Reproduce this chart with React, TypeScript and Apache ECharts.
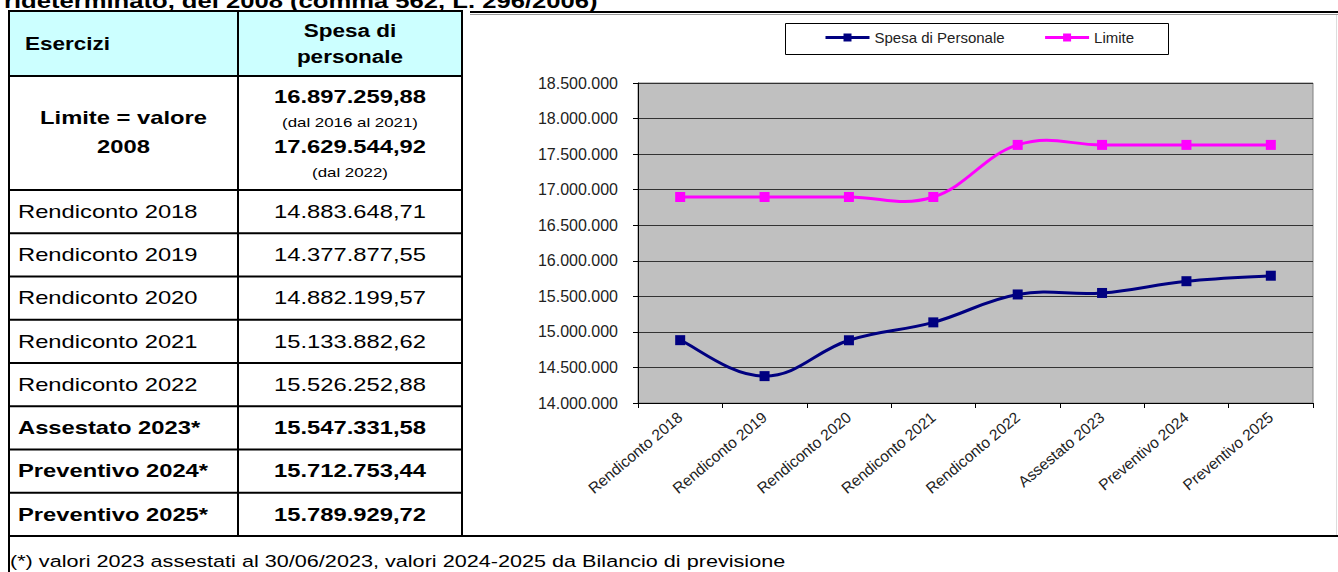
import React, { useEffect, useRef } from "react";
import * as echarts from "echarts";

// ---------- data ----------
const categories = [
  "Rendiconto 2018",
  "Rendiconto 2019",
  "Rendiconto 2020",
  "Rendiconto 2021",
  "Rendiconto 2022",
  "Assestato 2023",
  "Preventivo 2024",
  "Preventivo 2025",
];
const spesaPersonale = [
  14883648.71, 14377877.55, 14882199.57, 15133882.62, 15526252.88, 15547331.58,
  15712753.44, 15789929.72,
];
const limite = [
  16897259.88, 16897259.88, 16897259.88, 16897259.88, 17629544.92, 17629544.92,
  17629544.92, 17629544.92,
];
const tableLabels = [
  "Rendiconto 2018",
  "Rendiconto 2019",
  "Rendiconto 2020",
  "Rendiconto 2021",
  "Rendiconto 2022",
  "Assestato 2023*",
  "Preventivo 2024*",
  "Preventivo 2025*",
];
const tableBold = [false, false, false, false, false, true, true, true];
const limiteValori = [16897259.88, 17629544.92];
const limiteNote = ["(dal 2016 al 2021)", "(dal 2022)"];
const yMin = 14000000;
const yMax = 18500000;
const yStep = 500000;

const titleText = "rideterminato, del 2008 (comma 562, L. 296/2006)";
const footnoteText =
  "(*) valori 2023 assestati al 30/06/2023, valori 2024-2025 da Bilancio di previsione";

// ---------- helpers ----------
const FONT = "'Liberation Sans', Arial, Helvetica, sans-serif";
const SX = 1.25;
const NAVY = "#000080";
const MAGENTA = "#FF00FF";

function groupThousands(s: string) {
  return s.replace(/\B(?=(\d{3})+(?!\d))/g, ".");
}
function fmtInt(v: number) {
  return groupThousands(String(Math.round(v)));
}
function fmtDec(v: number) {
  const [i, d] = v.toFixed(2).split(".");
  return groupThousands(i) + "," + d;
}

function txt(
  x: number,
  y: number,
  text: string,
  size: number,
  bold: boolean,
  align: string = "left",
  vAlign: string = "middle"
) {
  return {
    type: "text",
    x,
    y,
    scaleX: SX,
    z: 10,
    style: {
      text,
      x: 0,
      y: 0,
      fill: "#000",
      fontSize: size,
      fontWeight: bold ? "bold" : "normal",
      fontFamily: FONT,
      align,
      verticalAlign: vAlign,
    },
  };
}
function ln(x1: number, y1: number, x2: number, y2: number, w = 2, c = "#000") {
  return {
    type: "line",
    z: 12,
    shape: { x1, y1, x2, y2 },
    style: { stroke: c, lineWidth: w },
  };
}

// Excel-like smoothed segment (cardinal spline) through the axis' own coordinates
function curveSeries(name: string, values: number[], color: string) {
  const n = values.length;
  const K = 0.2;
  return {
    name,
    type: "custom",
    z: 2,
    silent: true,
    data: values.map((v, i) => [i, v]),
    encode: { x: 0, y: 1 },
    renderItem: (params: any, api: any) => {
      const i = params.dataIndex;
      if (i >= n - 1) return { type: "group", children: [] };
      const pt = (k: number) => {
        const c = Math.max(0, Math.min(n - 1, k));
        return api.coord([c, values[c]]);
      };
      const p0 = pt(i - 1);
      const p1 = pt(i);
      const p2 = pt(i + 1);
      const p3 = pt(i + 2);
      return {
        type: "bezierCurve",
        shape: {
          x1: p1[0],
          y1: p1[1],
          x2: p2[0],
          y2: p2[1],
          cpx1: p1[0] + (p2[0] - p0[0]) * K,
          cpy1: p1[1] + (p2[1] - p0[1]) * K,
          cpx2: p2[0] - (p3[0] - p1[0]) * K,
          cpy2: p2[1] - (p3[1] - p1[1]) * K,
        },
        style: { stroke: color, lineWidth: 3, fill: null, lineCap: "round" },
      };
    },
  };
}

export default function App() {
  const ref = useRef<HTMLDivElement>(null);

  useEffect(() => {
    if (!ref.current) return;
    const chart = echarts.init(ref.current, null, { renderer: "svg" });

    const colL = 9;
    const colM = 238;
    const colR = 462;
    const tTop = 11;
    const headBottom = 76;
    const rowTop0 = 190;
    const rowH = 43.25;
    const tBottom = rowTop0 + rowH * tableLabels.length;
    const c1 = (colL + colM) / 2;
    const c2 = (colM + colR) / 2;

    const g: any[] = [];
    g.push({
      type: "rect",
      z: 5,
      shape: { x: colL, y: tTop, width: colR - colL, height: headBottom - tTop },
      style: { fill: "#CCFFFF" },
    });
    g.push(txt(4, 11, titleText, 20.5, true, "left", "bottom"));
    g.push(txt(25, 44, "Esercizi", 18, true));
    g.push(txt(c2, 31, "Spesa di", 18, true, "center"));
    g.push(txt(c2, 57, "personale", 18, true, "center"));
    g.push(txt(c1, 118, "Limite = valore", 19, true, "center"));
    g.push(txt(c1, 147, "2008", 19, true, "center"));
    g.push(txt(c2, 97, fmtDec(limiteValori[0]), 19, true, "center"));
    g.push(txt(c2, 122, limiteNote[0], 13.5, false, "center"));
    g.push(txt(c2, 147, fmtDec(limiteValori[1]), 19, true, "center"));
    g.push(txt(c2, 172, limiteNote[1], 13.5, false, "center"));
    tableLabels.forEach((lab, i) => {
      const cy = rowTop0 + rowH * i + rowH / 2;
      g.push(txt(18, cy, lab, 19, tableBold[i]));
      g.push(txt(c2, cy, fmtDec(spesaPersonale[i]), 19, tableBold[i], "center"));
    });
    g.push(txt(10, 561, footnoteText, 17.3, false));

    g.push(ln(colL, tTop, colR, tTop));
    g.push(ln(colL, tTop - 1, colL, 572));
    g.push(ln(colM, tTop, colM, tBottom));
    g.push(ln(colR, tTop - 1, colR, tBottom + 1));
    g.push(ln(colL, headBottom, colR, headBottom));
    for (let i = 0; i <= tableLabels.length; i++) {
      const y = rowTop0 + rowH * i;
      g.push(ln(colL, y, i === tableLabels.length ? 1338 : colR, y));
    }
    g.push(ln(470, 12, 1338, 12, 2, "#000"));
    g.push(ln(470, 14.5, 1338, 14.5, 1, "#9a9a9a"));
    g.push(ln(1336.5, 15, 1336.5, tBottom - 1, 1, "#dddddd"));
    g.push({
      type: "rect",
      z: 1,
      shape: { x: 785.5, y: 23.5, width: 383, height: 31 },
      style: { fill: "#fff", stroke: "#000", lineWidth: 1 },
    });

    chart.setOption({
      animation: false,
      backgroundColor: "#fff",
      textStyle: { fontFamily: FONT },
      grid: {
        left: 638,
        right: 25,
        top: 83,
        bottom: 169,
        show: true,
        backgroundColor: "#C0C0C0",
        borderColor: "#808080",
        borderWidth: 1,
      },
      legend: {
        left: 824,
        top: 30,
        padding: 0,
        itemWidth: 44,
        itemHeight: 10,
        itemGap: 39,
        z: 20,
        textStyle: { fontSize: 15, color: "#222", fontFamily: FONT },
        data: [
          {
            name: "Spesa di Personale",
            lineStyle: { color: NAVY, width: 3, opacity: 1 },
            itemStyle: { color: NAVY },
          },
          {
            name: "Limite",
            lineStyle: { color: MAGENTA, width: 3, opacity: 1 },
            itemStyle: { color: MAGENTA },
          },
        ],
      },
      xAxis: {
        type: "category",
        data: categories,
        boundaryGap: true,
        axisLine: { lineStyle: { color: "#000", width: 1 } },
        axisTick: { show: true, length: 5, lineStyle: { color: "#000" } },
        axisLabel: {
          interval: 0,
          rotate: 40,
          fontSize: 15.5,
          color: "#222",
          margin: 12,
          fontFamily: FONT,
        },
        splitLine: { show: false },
      },
      yAxis: {
        type: "value",
        min: yMin,
        max: yMax,
        interval: yStep,
        axisLine: { show: true, lineStyle: { color: "#000", width: 1 } },
        axisTick: { show: true, length: 5, lineStyle: { color: "#000" } },
        axisLabel: {
          fontSize: 16,
          color: "#222",
          margin: 20,
          fontFamily: FONT,
          formatter: (v: number) => fmtInt(v),
        },
        splitLine: { show: true, lineStyle: { color: "#333", width: 1 } },
      },
      series: [
        curveSeries("curve-spesa", spesaPersonale, NAVY),
        curveSeries("curve-limite", limite, MAGENTA),
        {
          name: "Spesa di Personale",
          type: "line",
          data: spesaPersonale,
          symbol: "rect",
          symbolSize: 10,
          lineStyle: { color: NAVY, width: 3, opacity: 0 },
          itemStyle: { color: NAVY },
          z: 3,
        },
        {
          name: "Limite",
          type: "line",
          data: limite,
          symbol: "rect",
          symbolSize: 10,
          lineStyle: { color: MAGENTA, width: 3, opacity: 0 },
          itemStyle: { color: MAGENTA },
          z: 3,
        },
      ],
      graphic: g,
    });

    return () => chart.dispose();
  }, []);

  return (
    <div
      style={{
        position: "fixed",
        left: 0,
        top: 0,
        width: 1338,
        height: 572,
        background: "#fff",
      }}
    >
      <div ref={ref} style={{ width: 1338, height: 572 }} />
    </div>
  );
}
